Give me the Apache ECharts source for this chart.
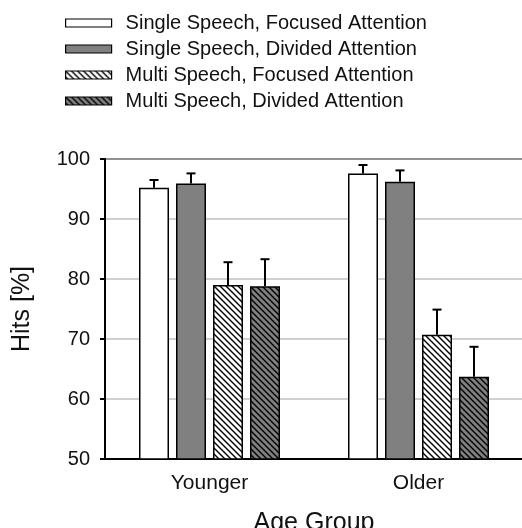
<!DOCTYPE html>
<html><head><meta charset="utf-8">
<script src="https://cdn.jsdelivr.net/npm/echarts@6/dist/echarts.min.js"></script>
<style>html,body{margin:0;padding:0;background:#fff}#c{width:522px;height:528px}</style>
</head><body><div id="c"></div>
<script>
const categories = ['Younger', 'Older'];
const seriesNames = ['Single Speech, Focused Attention', 'Single Speech, Divided Attention', 'Multi Speech, Focused Attention', 'Multi Speech, Divided Attention'];
const ssFocused = [95.2, 97.6];
const ssDivided = [95.9, 96.2];
const msFocused = [79.0, 70.7];
const msDivided = [78.8, 63.7];
const ssFocusedErr = [1.3, 1.4];
const ssDividedErr = [1.7, 1.9];
const msFocusedErr = [3.8, 4.2];
const msDividedErr = [4.5, 5.0];
const yTicks = [50, 60, 70, 80, 90, 100];

function hatch(bg) {
  const c = document.createElement('canvas');
  c.width = 6; c.height = 6;
  const g = c.getContext('2d');
  g.fillStyle = bg; g.fillRect(0, 0, 6, 6);
  g.strokeStyle = '#000'; g.lineWidth = 1.4;
  g.beginPath();
  for (let k = -2; k <= 2; k++) { g.moveTo(k * 6 - 1, -1); g.lineTo(k * 6 + 7, 7); }
  g.stroke();
  return { image: c, repeat: 'repeat' };
}
const fills = ['#ffffff', '#808080', hatch('#ffffff'), hatch('#808080')];
const values = [ssFocused, ssDivided, msFocused, msDivided];
const errs = [ssFocusedErr, ssDividedErr, msFocusedErr, msDividedErr];
const BW = 30, GAP = 7;

const series = values.map((v, i) => ({
  name: seriesNames[i], type: 'bar', data: v, barWidth: BW, barGap: (GAP / BW * 100) + '%',
  itemStyle: { color: fills[i], borderColor: '#000', borderWidth: 1.5 }
}));
values.forEach((v, i) => {
  series.push({
    type: 'custom', z: 1, silent: true,
    data: v.map((val, j) => [j, val, val + errs[i][j]]),
    renderItem: function (params, api) {
      const off = (i - 1.5) * (BW + GAP);
      const p0 = api.coord([api.value(0), api.value(1)]);
      const p1 = api.coord([api.value(0), api.value(2)]);
      const x = p0[0] + off;
      return { type: 'group', children: [
        { type: 'line', shape: { x1: x, y1: p0[1], x2: x, y2: p1[1] }, style: { stroke: '#000', lineWidth: 2 } },
        { type: 'line', shape: { x1: x - 4.5, y1: p1[1], x2: x + 4.5, y2: p1[1] }, style: { stroke: '#000', lineWidth: 2 } }
      ]};
    }
  });
});

const chart = echarts.init(document.getElementById('c'));
chart.setOption({
  animation: false,
  textStyle: { fontFamily: 'Liberation Sans, Arial, sans-serif' },
  legend: {
    orient: 'vertical', left: 60, top: 7, itemWidth: 46, itemHeight: 8, itemGap: 4,
    icon: 'rect', data: seriesNames,
    textStyle: { fontSize: 20, color: '#111', lineHeight: 22, padding: [0, 0, 0, 9] },
    itemStyle: { borderColor: '#000', borderWidth: 1.2 }
  },
  grid: { left: 105, right: -1, top: 159, bottom: 69, containLabel: false, outerBoundsMode: 'none', show: true, borderColor: '#000', borderWidth: 2, backgroundColor: 'transparent' },
  xAxis: {
    type: 'category', data: categories, name: 'Age Group', nameLocation: 'middle', nameGap: 52,
    nameTextStyle: { fontSize: 25, color: '#111' },
    axisLine: { lineStyle: { color: '#000', width: 2 } }, axisTick: { show: false },
    axisLabel: { fontSize: 21, color: '#111', margin: 14 }
  },
  yAxis: {
    type: 'value', min: 50, max: 100, interval: 10, name: 'Hits [%]', nameLocation: 'middle', nameGap: 70,
    nameTextStyle: { fontSize: 25, color: '#111' },
    axisLine: { show: true, lineStyle: { color: '#000', width: 2 } },
    axisTick: { show: true, length: 5, lineStyle: { color: '#000', width: 2 } },
    axisLabel: { fontSize: 20, color: '#111', margin: 15, formatter: v => yTicks.includes(v) ? String(v) : '' },
    splitLine: { lineStyle: { color: '#c0c0c0', width: 1.5 } }
  },
  series: series
});
</script></body></html>
